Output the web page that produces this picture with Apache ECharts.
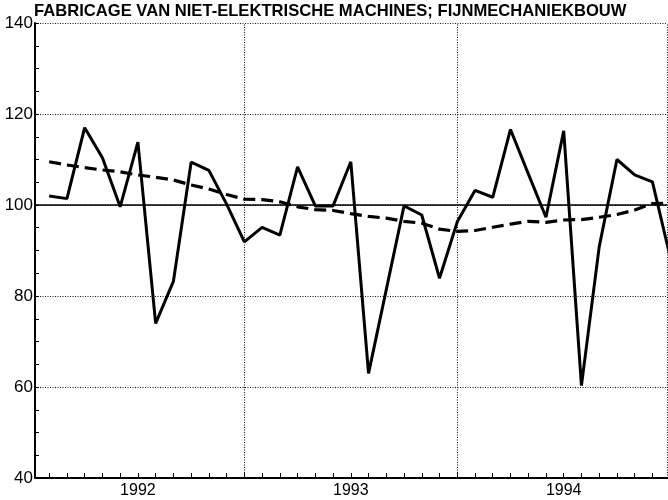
<!DOCTYPE html>
<html>
<head>
<meta charset="utf-8">
<script src="https://cdn.jsdelivr.net/npm/echarts@6/dist/echarts.min.js"></script>
<style>
  html, body { margin: 0; padding: 0; background: #fff; }
  #main { width: 668px; height: 500px; }
</style>
</head>
<body>
<div id="main"></div>
<script>
// month number since start of 1992 (end of month = 1 .. 36)
const months = [1, 2, 3, 4, 5, 6, 7, 8, 9, 10, 11, 12,
  13, 14, 15, 16, 17, 18, 19, 20, 21, 22, 23, 24,
  25, 26, 27, 28, 29, 30, 31, 32, 33, 34, 35, 36];
const tickMonths = [1, 2, 3, 4, 5, 6, 7, 8, 9, 10, 11, 12,
  13, 14, 15, 16, 17, 18, 19, 20, 21, 22, 23, 24,
  25, 26, 27, 28, 29, 30, 31, 32, 33, 34, 35];
const yearLabelPos = [6, 18, 30];
const yearNames = ['1992', '1993', '1994'];
const yearLines = [12, 24];

// maandcijfers (solid)
const monthly = [102.0, 101.4, 117.0, 110.4, 99.6, 113.8, 74.0, 83.2, 109.4, 107.6, 100.2, 91.9,
  95.1, 93.4, 108.4, 99.8, 99.8, 109.5, 63.0, 81.4, 99.8, 97.8, 83.9, 96.3,
  103.2, 101.7, 116.6, 106.9, 97.3, 116.3, 60.3, 90.8, 110.0, 106.6, 105.1, 88.6];
// trend (dashed)
const trend = [109.5, 108.8, 108.2, 107.7, 107.3, 106.6, 106.1, 105.5, 104.4, 103.5, 102.3, 101.3,
  101.2, 100.7, 99.6, 99.0, 98.8, 98.1, 97.5, 97.1, 96.4, 96.0, 94.7, 94.2,
  94.4, 95.1, 95.8, 96.4, 96.2, 96.7, 96.8, 97.3, 97.9, 98.9, 100.3, 100.4];

const yTicks = [40, 60, 80, 100, 120, 140];

const font = 'Liberation Sans, Arial, sans-serif';
const chart = echarts.init(document.getElementById('main'), null, { renderer: 'canvas' });

const gridLine = { color: '#111', width: 1, type: [1, 1.5] };

chart.setOption({
  animation: false,
  backgroundColor: '#fff',
  title: {
    text: 'FABRICAGE VAN NIET-ELEKTRISCHE MACHINES; FIJNMECHANIEKBOUW',
    left: 34,
    top: 3,
    padding: 0,
    textStyle: { fontFamily: font, fontSize: 16.6, fontWeight: 'bold', color: '#000' }
  },
  grid: { left: 35, top: 23, right: 0.5, bottom: 22, containLabel: false },
  xAxis: {
    type: 'value',
    min: 0.2,
    max: 35.85,
    axisLine: { show: true, onZero: false, lineStyle: { color: '#000', width: 2 } },
    axisTick: { show: true, inside: true, length: 5, customValues: tickMonths, lineStyle: { color: '#000', width: 1 } },
    axisLabel: {
      show: true,
      customValues: yearLabelPos,
      margin: 5,
      color: '#000',
      fontFamily: font,
      fontSize: 16,
      formatter: v => yearNames[yearLabelPos.indexOf(Math.round(v))] || ''
    },
    splitLine: { show: false }
  },
  yAxis: {
    type: 'value',
    min: yTicks[0],
    max: yTicks[yTicks.length - 1],
    interval: 20,
    axisLine: { show: true, lineStyle: { color: '#000', width: 2 } },
    axisTick: { show: true, inside: true, length: 4, lineStyle: { color: '#000', width: 1 } },
    minorTick: { show: true, splitNumber: 4, length: 4, lineStyle: { color: '#000', width: 1 } },
    axisLabel: { margin: 2, color: '#000', fontFamily: font, fontSize: 17 },
    splitLine: { show: true, lineStyle: gridLine }
  },
  series: [
    {
      name: 'trend',
      type: 'line',
      data: months.map((m, i) => [m, trend[i]]),
      symbol: 'none',
      lineStyle: { color: '#000', width: 3.2, type: [12, 6] },
      z: 3
    },
    {
      name: 'maandcijfers',
      type: 'line',
      data: months.map((m, i) => [m, monthly[i]]),
      symbol: 'none',
      lineStyle: { color: '#000', width: 3 },
      z: 4,
      markLine: {
        silent: true,
        symbol: 'none',
        label: { show: false },
        data: [
          { yAxis: 100, lineStyle: { color: '#000', width: 1.5, type: 'solid' } },
          ...yearLines.map(x => ({ xAxis: x, lineStyle: gridLine })),
          { xAxis: 35.85, lineStyle: gridLine }
        ]
      }
    }
  ]
});
</script>
</body>
</html>
